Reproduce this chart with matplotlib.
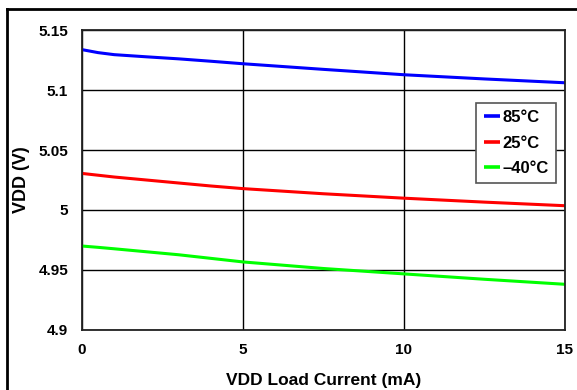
import matplotlib.pyplot as plt
from matplotlib.lines import Line2D

plt.rcParams['font.family'] = ['Liberation Sans', 'DejaVu Sans']
plt.rcParams['font.weight'] = 'bold'

# VDD output vs load current at three temperatures
current_ma = [0, 0.5, 1, 2, 3, 4, 5, 7.5, 10, 12.5, 15]
vdd_85c = [5.1340, 5.1315, 5.1298, 5.1280, 5.1263, 5.1243, 5.1222,
           5.1175, 5.1130, 5.1095, 5.1063]
vdd_25c = [5.0305, 5.0290, 5.0275, 5.0250, 5.0225, 5.0200, 5.0178,
           5.0135, 5.0098, 5.0065, 5.0035]
vdd_m40c = [4.9698, 4.9687, 4.9675, 4.9650, 4.9625, 4.9595, 4.9565,
            4.9510, 4.9465, 4.9420, 4.9378]

labels = ['85°C', '25°C', '–40°C']
colors = ['#0000ff', '#ff0000', '#00ff00']

x_ticks = [0, 5, 10, 15]
y_ticks = [4.9, 4.95, 5.0, 5.05, 5.1, 5.15]
y_tick_labels = ['4.9', '4.95', '5', '5.05', '5.1', '5.15']

fig = plt.figure(figsize=(5.77, 3.9), dpi=100)
ax = fig.add_axes([0.1421, 0.1551, 0.8371, 0.7667])

for vals, lab, col in zip([vdd_85c, vdd_25c, vdd_m40c], labels, colors):
    ax.plot(current_ma, vals, color=col, linewidth=2.2, label=lab,
            solid_capstyle='butt')

ax.set_xlim(0, 15)
ax.set_ylim(4.9, 5.15)
ax.set_xticks(x_ticks)
ax.set_xticklabels([str(t) for t in x_ticks])
ax.set_yticks(y_ticks)
ax.set_yticklabels(y_tick_labels)
ax.tick_params(length=0, labelsize=11, pad=10)
ax.tick_params(axis='x', pad=10)
ax.grid(True, color='black', linewidth=1.0)
ax.set_axisbelow(True)
for sp in ax.spines.values():
    sp.set_linewidth(1.3)
    sp.set_color('#222222')

ax.set_xlabel('VDD Load Current (mA)', fontsize=12.5, fontweight='bold',
              labelpad=11)
ax.set_ylabel('VDD (V)', fontsize=13, fontweight='bold', labelpad=6)

leg = ax.legend(loc='upper right', bbox_to_anchor=(0.981, 0.7585),
                borderaxespad=0, fancybox=False, framealpha=1,
                edgecolor='#555555', fontsize=12, handlelength=1.0,
                handletextpad=0.1, labelspacing=0.62, borderpad=0.45)
leg.get_frame().set_linewidth(1.2)
for h in leg.get_lines():
    h.set_linewidth(2.6)

# outer frame: only top and left edges
fig.add_artist(Line2D([7 / 577, 7 / 577], [0, 381 / 390],
                      transform=fig.transFigure, color='black', linewidth=2))
fig.add_artist(Line2D([7 / 577, 1], [381 / 390, 381 / 390],
                      transform=fig.transFigure, color='black', linewidth=2))

fig.savefig('out.png', dpi=100)
